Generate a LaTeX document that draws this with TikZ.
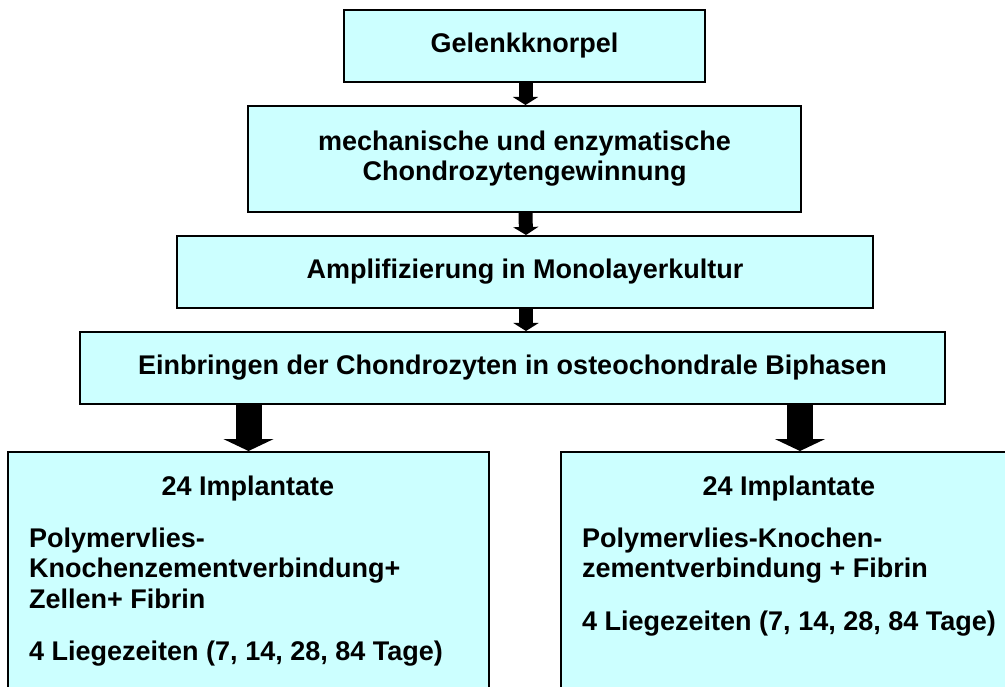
\documentclass[tikz,border=0pt]{standalone}
\usepackage{fontspec}
\setmainfont{Liberation Sans}
\usetikzlibrary{arrows.meta}
\definecolor{boxfill}{HTML}{CCFFFF}
\begin{document}
\begin{tikzpicture}[x=1pt,y=-1pt,
  box/.style={draw=black, line width=2pt, fill=boxfill, rectangle, inner sep=0pt,
    font=\fontsize{27}{30}\selectfont\bfseries, align=center},
  txt/.style={inner sep=0pt, font=\fontsize{27}{30}\selectfont\bfseries, anchor=base west},
  ctxt/.style={txt, anchor=base},
  smallarrow/.style={line width=14pt, -{Triangle[width=25pt,length=8pt]}},
  bigarrow/.style={line width=26pt, -{Triangle[width=50pt,length=12pt]}}]
\useasboundingbox (0,0) rectangle (1005,687);
\clip (0,0) rectangle (1005,687);
\node[box, minimum width=361pt, minimum height=72pt] (b1) at (524.5,46) {Gelenkknorpel};
\node[box, minimum width=553pt, minimum height=106pt] (b2) at (524.5,159) {mechanische und enzymatische\\Chondrozytengewinnung};
\node[box, minimum width=696pt, minimum height=72pt] (b3) at (525,272) {Amplifizierung in Monolayerkultur};
\node[box, minimum width=865pt, minimum height=72pt] (b4) at (512.5,368) {Einbringen der Chondrozyten in osteochondrale Biphasen};
\node[box, minimum width=481pt, minimum height=268pt] (b5) at (248.5,586) {};
\node[box, minimum width=478pt, minimum height=268pt] (b6) at (800,586) {};
% texts in lower boxes
\node[ctxt] (t5a) at (248,495) {24 Implantate};
\node[txt] (t5b) at (29,547) {Polymervlies-};
\node[txt] (t5c) at (29,577) {Knochenzementverbindung+};
\node[txt] (t5d) at (29,608) {Zellen+ Fibrin};
\node[txt] (t5e) at (29,660) {4 Liegezeiten (7, 14, 28, 84 Tage)};
\node[ctxt] (t6a) at (789,495) {24 Implantate};
\node[txt] (t6b) at (582,547) {Polymervlies-Knochen-};
\node[txt] (t6c) at (582,577) {zementverbindung + Fibrin};
\node[txt] (t6d) at (582,630) {4 Liegezeiten (7, 14, 28, 84 Tage)};
% arrows
\draw[smallarrow] ([xshift=1pt]b1.south) -- ([xshift=1pt]b2.north);
\draw[smallarrow] ([xshift=1pt]b2.south) -- ([xshift=1pt]b3.north);
\draw[smallarrow] ([xshift=1pt]b3.south) -- ([xshift=1pt]b3.south |- b4.north);
\draw[bigarrow] (b4.south -| b5.north) -- (b5.north);
\draw[bigarrow] (b4.south -| b6.north) -- (b6.north);
\end{tikzpicture}
\end{document}
